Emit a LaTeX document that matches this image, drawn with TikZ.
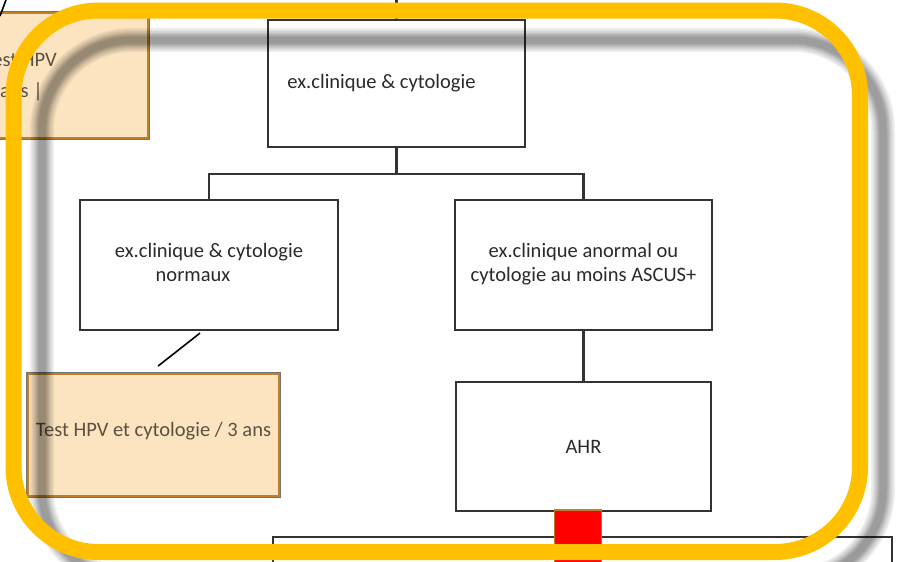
\documentclass[tikz,border=0pt]{standalone}
\usepackage{fontspec}
\setmainfont{Carlito}
\definecolor{tanfill}{HTML}{FCE4C0}
\definecolor{tanedge}{HTML}{C0802A}
\definecolor{frameyellow}{HTML}{FFC000}
\definecolor{boxline}{HTML}{333333}
\definecolor{tantext}{HTML}{5E5040}
\definecolor{boxtext}{HTML}{2A2A2A}

\begin{document}
\begin{tikzpicture}[x=1pt,y=-1pt,
  every node/.style={font=\fontsize{20.5}{24}\selectfont, text=boxtext},
  flowbox/.style={draw=boxline, line width=2.2pt, fill=white, inner sep=0pt, rectangle},
  tanbox/.style={preaction={draw=black!55, line width=4.4pt}, draw=tanedge, line width=1.8pt,
                 fill=tanfill, inner sep=0pt, rectangle, text=tantext},
  conn/.style={draw=boxline, line width=2.2pt},
  shadowring/.style={draw=black, rounded corners=90pt, line width=#1, opacity=0.06},
  yellowframe/.style={draw=frameyellow, line width=16pt, rounded corners=85pt}
]
\useasboundingbox (0,0) rectangle (898,562);
\clip (0,0) rectangle (898,562);

% earlier step, mostly off the left edge
\node[tanbox, minimum width=208pt, minimum height=125pt] (oldtan) at (44,75.5) {};
\node[anchor=base east, inner sep=0pt, text=tantext] (oldtanA) at (57,66) {Test HPV};
\node[anchor=base east, inner sep=0pt, text=tantext] (oldtanB) at (43,97) {/ 5 ans |};
\coordinate (diagA) at (0,16);
\coordinate (diagB) at (6,0);
\draw[line width=1.6pt] (diagA) -- (diagB);

% flow boxes
\node[flowbox, minimum width=257pt, minimum height=127pt] (top) at (396.5,83.5)
  {ex.clinique \& cytologie\hspace*{30pt}};
\node[flowbox, minimum width=258pt, minimum height=130pt] (left) at (209,265)
  {\begin{tabular}{@{}c@{}}ex.clinique \& cytologie\\\hspace*{-32pt}normaux\end{tabular}};
\node[flowbox, minimum width=257pt, minimum height=130pt] (right) at (583.5,265)
  {\raisebox{10pt}{\begin{tabular}{@{}c@{}}ex.clinique anormal ou\\cytologie au moins ASCUS+\end{tabular}}};
\node[flowbox, minimum width=255pt, minimum height=129pt] (ahr) at (583.5,446.5) {AHR};
\node[tanbox, minimum width=251pt, minimum height=122pt] (hpv) at (153.5,435)
  {\raisebox{11pt}{Test HPV et cytologie / 3 ans}};
\node[flowbox, minimum width=619pt, minimum height=86pt] (bottombox) at (582.5,580) {};
\node[draw=tanedge, line width=1.6pt, fill=red, inner sep=0pt, rectangle,
      minimum width=47pt, minimum height=90pt] (redsq) at (578,555) {};

% connectors
\coordinate (topin) at (396.5,0);
\coordinate (split) at (396.5,174);
\draw[conn] (topin) -- (top.north);
\draw[conn] (top.south) -- (split);
\draw[conn] (left.north) |- (split) -| (right.north);
\draw[conn] (right.south) -- (ahr.north);
\draw[line width=1.6pt] ([xshift=-9pt,yshift=-2pt]left.south) -- ([xshift=4.5pt,yshift=7pt]hpv.north);

% soft grey shadow frame
\foreach \w in {24,21,18,15,13,11,9,7}
  \draw[shadowring=\w pt] (42,40) rectangle (883,580);

% yellow highlight frame
\draw[yellowframe] (13.5,10.5) rectangle (860,552);
\end{tikzpicture}
\end{document}
